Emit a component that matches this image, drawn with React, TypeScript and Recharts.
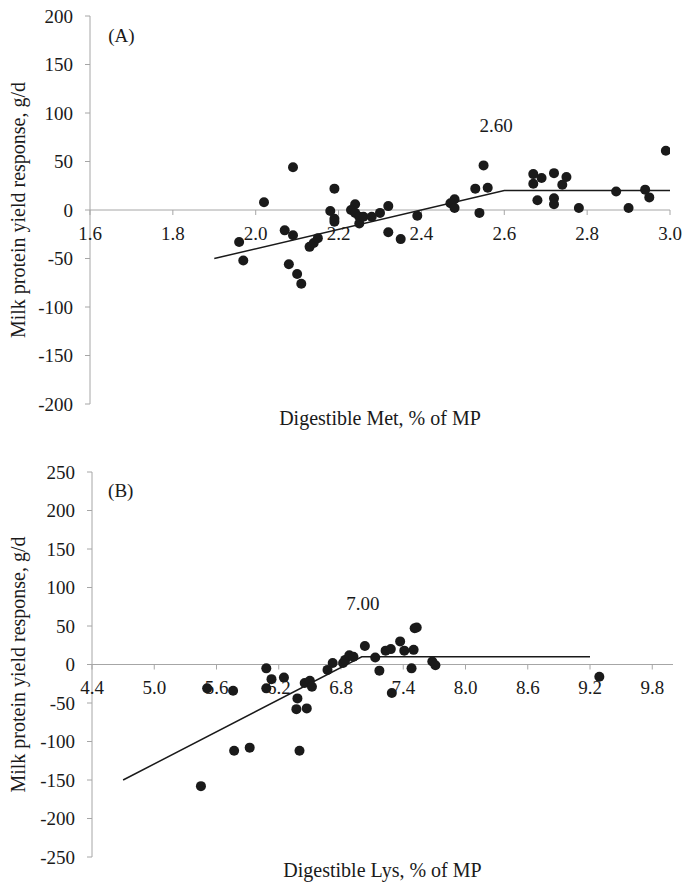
import React from 'react';
import { ScatterChart, Scatter, XAxis, YAxis, ReferenceLine, ReferenceDot } from 'recharts';

const FONT = '"Liberation Serif", "Times New Roman", serif';
const AXIS = '#a6a6a6';
const INK = '#1a1a1a';
const FS = 19;
const FS_TITLE = 20;

// Panel A: digestible Met
const metX = [1.96, 1.97, 2.02, 2.09, 2.07, 2.09, 2.08, 2.10, 2.11, 2.13, 2.14, 2.15, 2.19, 2.18, 2.19, 2.19, 2.24, 2.23, 2.24, 2.25, 2.25, 2.26, 2.28, 2.30, 2.32, 2.32, 2.35, 2.39, 2.48, 2.47, 2.48, 2.54, 2.53, 2.55, 2.56, 2.67, 2.67, 2.69, 2.68, 2.72, 2.72, 2.72, 2.75, 2.74, 2.78, 2.87, 2.90, 2.94, 2.95, 2.99];
const metY = [-33, -52, 8, 44, -21, -26, -56, -66, -76, -38, -34, -29, 22, -1, -9, -12, 6, 0, -3, -7, -14, -7, -7, -3, 4, -23, -30, -6, 11, 7, 2, -3, 22, 46, 23, 37, 27, 33, 10, 38, 12, 6, 34, 26, 2, 19, 2, 21, 13, 61];
const metFitX = [1.9, 2.6, 3.0];
const metFitY = [-50, 20, 20];
const metTicksX = [1.6, 1.8, 2.0, 2.2, 2.4, 2.6, 2.8, 3.0];
const metTicksY = [-200, -150, -100, -50, 0, 50, 100, 150, 200];
const metBreak = { x: 2.58, y: 87, text: '2.60' };

// Panel B: digestible Lys
const lysX = [5.45, 5.51, 5.76, 5.77, 5.92, 6.08, 6.08, 6.13, 6.25, 6.37, 6.38, 6.40, 6.45, 6.47, 6.50, 6.52, 6.67, 6.72, 6.82, 6.84, 6.88, 6.92, 7.03, 7.13, 7.17, 7.23, 7.28, 7.29, 7.37, 7.41, 7.48, 7.50, 7.51, 7.53, 7.68, 7.71, 9.29];
const lysY = [-158, -31, -34, -112, -108, -5, -31, -19, -17, -58, -44, -112, -24, -57, -21, -29, -7, 2, 2, 6, 12, 10, 24, 9, -8, 18, 20, -37, 30, 18, -5, 19, 47, 48, 4, -1, -16];
const lysFitX = [4.7, 7.0, 9.2];
const lysFitY = [-150, 10, 10];
const lysTicksX = [4.4, 5.0, 5.6, 6.2, 6.8, 7.4, 8.0, 8.6, 9.2, 9.8];
const lysTicksY = [-250, -200, -150, -100, -50, 0, 50, 100, 150, 200, 250];
const lysBreak = { x: 7.01, y: 79, text: '7.00' };

const yTitle = 'Milk protein yield response, g/d';

const zip = (xs: number[], ys: number[]) => xs.map((x, i) => ({ x, y: ys[i] }));

const DotShape = (p: any) => <circle cx={p.cx} cy={p.cy} r={5} fill={INK} />;
const NoShape = () => <g />;

const makeXTick = (label: string) => (p: any) => (
  <g>
    <line x1={p.cx} y1={p.cy} x2={p.cx} y2={p.cy + 5} stroke={AXIS} strokeWidth={1} />
    <text x={p.cx} y={p.cy + 23} textAnchor="middle" dominantBaseline="central" fontFamily={FONT} fontSize={FS} fill={INK}>
      {label}
    </text>
  </g>
);

const makeText = (label: string, anchor: string) => (p: any) => (
  <text x={p.cx} y={p.cy} textAnchor={anchor} dominantBaseline="central" fontFamily={FONT} fontSize={FS} fill={INK}>
    {label}
  </text>
);

const YTitle = (props: any) => {
  const vb = props.viewBox || {};
  const cx = vb.x + 18;
  const cy = vb.y + vb.height / 2;
  return (
    <text x={cx} y={cy} transform={`rotate(-90 ${cx} ${cy})`} textAnchor="middle" dominantBaseline="central" fontFamily={FONT} fontSize={FS_TITLE} fill={INK}>
      {yTitle}
    </text>
  );
};

const makeXTitle = (label: string, dy: number) => (props: any) => {
  const vb = props.viewBox || {};
  return (
    <text x={vb.x + vb.width / 2} y={vb.y + dy} textAnchor="middle" dominantBaseline="central" fontFamily={FONT} fontSize={FS_TITLE} fill={INK}>
      {label}
    </text>
  );
};

type PanelProps = {
  width: number; height: number; margin: any; yAxisWidth: number; xAxisHeight: number;
  xDomain: [number, number]; yDomain: [number, number];
  xTicks: number[]; yTicks: number[]; xDecimals: number;
  points: { x: number; y: number }[]; fit: { x: number; y: number }[];
  tag: string; tagX: number; tagY: number;
  brk: { x: number; y: number; text: string };
  xTitle: string; xTitleDy: number;
};

function Panel(p: PanelProps) {
  return (
    <ScatterChart width={p.width} height={p.height} margin={p.margin}>
      <XAxis
        type="number" dataKey="x" domain={p.xDomain} ticks={p.xTicks} allowDataOverflow
        tick={false} axisLine={false} tickLine={false} height={p.xAxisHeight}
        label={{ content: makeXTitle(p.xTitle, p.xTitleDy) }}
      />
      <YAxis
        type="number" dataKey="y" domain={p.yDomain} ticks={p.yTicks} allowDataOverflow interval={0}
        width={p.yAxisWidth} axisLine={{ stroke: AXIS }} tickLine={{ stroke: AXIS }} tickSize={5} tickMargin={12}
        tick={{ fontFamily: FONT, fontSize: FS, fill: INK }}
        label={{ content: YTitle }}
      />
      <ReferenceLine y={0} stroke={AXIS} strokeWidth={1} />
      {p.xTicks.map((t) => (
        <ReferenceDot key={t} x={t} y={0} r={0} ifOverflow="visible" shape={makeXTick(t.toFixed(p.xDecimals))} />
      ))}
      <ReferenceDot x={p.tagX} y={p.tagY} r={0} ifOverflow="visible" shape={makeText(p.tag, 'start')} />
      <ReferenceDot x={p.brk.x} y={p.brk.y} r={0} ifOverflow="visible" shape={makeText(p.brk.text, 'middle')} />
      <Scatter data={p.fit} line={{ stroke: INK, strokeWidth: 1.5 }} lineType="joint" shape={NoShape} isAnimationActive={false} />
      <Scatter data={p.points} shape={DotShape} isAnimationActive={false} />
    </ScatterChart>
  );
}

export default function App() {
  return (
    <div style={{ position: 'absolute', left: 0, top: 0, width: 683, height: 884, background: '#fff' }}>
      <div style={{ position: 'absolute', left: 0, top: 0 }}>
        <Panel
          width={683} height={460} margin={{ top: 16, right: 13, bottom: 0, left: 0 }}
          yAxisWidth={90} xAxisHeight={56}
          xDomain={[1.6, 3.0]} yDomain={[-200, 200]}
          xTicks={metTicksX} yTicks={metTicksY} xDecimals={1}
          points={zip(metX, metY)} fit={zip(metFitX, metFitY)}
          tag="(A)" tagX={1.644} tagY={180}
          brk={metBreak}
          xTitle="Digestible Met, % of MP" xTitleDy={14}
        />
      </div>
      <div style={{ position: 'absolute', left: 0, top: 460 }}>
        <Panel
          width={683} height={424} margin={{ top: 12, right: 10, bottom: 0, left: 0 }}
          yAxisWidth={92} xAxisHeight={27}
          xDomain={[4.4, 10.0]} yDomain={[-250, 250]}
          xTicks={lysTicksX} yTicks={lysTicksY} xDecimals={1}
          points={zip(lysX, lysY)} fit={zip(lysFitX, lysFitY)}
          tag="(B)" tagX={4.555} tagY={226}
          brk={lysBreak}
          xTitle="Digestible Lys, % of MP" xTitleDy={13}
        />
      </div>
    </div>
  );
}
